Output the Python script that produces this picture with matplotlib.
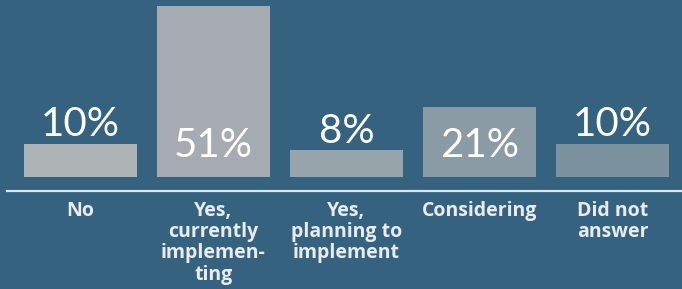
import matplotlib.pyplot as plt
import numpy as np

categories = ['No', 'Yes,\ncurrently\nimplemen-\nting', 'Yes,\nplanning to\nimplement',
              'Considering', 'Did not\nanswer']
values = [10, 51, 8, 21, 10]
bar_colors = ['#adb2b5', '#a5abb0', '#97a4aa', '#8a9ba6', '#7c929e']

bg = '#35627f'
W, H = 682, 289
px = 3.35          # pixels per percent point
base_px = 177      # pixel row of the bar bottoms (from top)

fig = plt.figure(figsize=(W / 100, H / 100), dpi=100)
fig.patch.set_facecolor(bg)
ax = fig.add_axes([0, 0, 1, 1])
ax.set_facecolor(bg)

x = np.arange(len(values))
ax.bar(x, values, width=113 / 133, color=bar_colors, linewidth=0)

ax.set_xlim(-80.5 / 133, 4 + (W - 612.5) / 133)
ax.set_ylim(-(H - base_px) / px, base_px / px)
ax.axis('off')

# baseline rule
ax.axhline(-14 / px, xmin=7 / W, xmax=1, color='#dfe4e8', linewidth=1.6)

for xi, v in zip(x, values):
    if v > 15:
        y = 20 / px
    else:
        y = v + 7 / px
    ax.text(xi, y, f'{v}%', ha='center', va='baseline', color='white',
            fontsize=29, family='Lato')

for xi, c in zip(x, categories):
    ax.text(xi, -24 / px, c, ha='center', va='top', color='#e8ecef',
            fontsize=14, family='Open Sans', fontweight='bold', linespacing=1.08)

fig.savefig('out.png', dpi=100, facecolor=bg)
